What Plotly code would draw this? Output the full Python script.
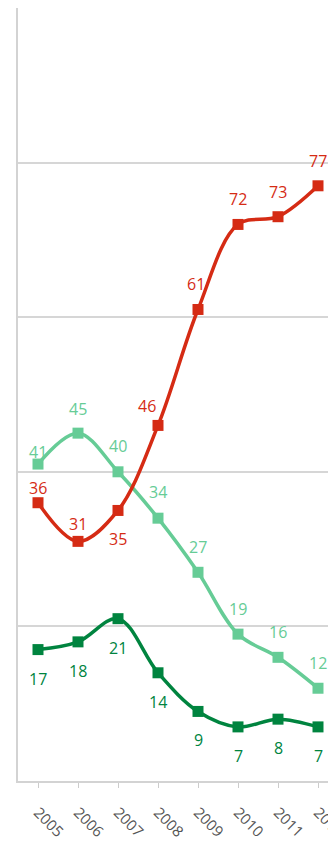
import plotly.graph_objects as go

# data
years = ["2005", "2006", "2007", "2008", "2009", "2010", "2011", "2012"]
red_vals = [36, 31, 35, 46, 61, 72, 73, 77]
light_vals = [41, 45, 40, 34, 27, 19, 16, 12]
dark_vals = [17, 18, 21, 14, 9, 7, 8, 7]

# label offsets in px (layout only)
red_shift = [15, 17, -29, 19, 25, 25, 25, 25]
red_xshift = [0, 0, 0, -11, -2, 0, 0, 0]
light_shift = [12, 24, 26, 26, 25, 25, 25, 25]
dark_shift = [-29] * 8

RED = "#d52b14"
LIGHT = "#66cc96"
DARK = "#00843f"

xs = list(range(len(years)))

fig = go.Figure()
series = [
    (dark_vals, DARK, dark_shift, [0] * 8),
    (light_vals, LIGHT, light_shift, [0] * 8),
    (red_vals, RED, red_shift, red_xshift),
]
annots = []
for vals, col, shifts, xsh in series:
    fig.add_trace(go.Scatter(
        x=xs, y=vals, mode="lines+markers",
        line=dict(color=col, width=3.5, shape="spline", smoothing=1),
        marker=dict(symbol="square", size=11, color=col),
        showlegend=False, hoverinfo="skip",
    ))
    for i, v in enumerate(vals):
        annots.append(dict(
            x=xs[i], y=v, text=str(v), showarrow=False,
            yshift=shifts[i], xshift=xsh[i],
            font=dict(family="Open Sans", size=16, color=col),
        ))

# page body has an 8px margin, so the figure is sized to fit inside the window
fig.update_layout(
    width=328, height=830,
    margin=dict(l=10, r=0, t=0, b=57),
    plot_bgcolor="white", paper_bgcolor="white",
    annotations=annots,
    font=dict(family="Open Sans"),
)
fig.update_xaxes(
    range=[-0.5, 7.45], tickmode="array", tickvals=xs, ticktext=years,
    tickangle=45, ticks="outside", ticklen=5, tickwidth=1, tickcolor="#cccccc",
    showline=True, linecolor="#d3d3d3", linewidth=2, showgrid=False, zeroline=False,
    tickfont=dict(family="Open Sans", size=15, color="#555555"),
    ticklabelstandoff=10, ticklabeloverflow="allow", automargin=False,
)
fig.update_yaxes(
    range=[0, 100], tickvals=[20, 40, 60, 80, 100], showticklabels=False,
    showgrid=True, gridcolor="#d6d6d6", gridwidth=2,
    showline=True, linecolor="#d3d3d3", linewidth=2, zeroline=False,
    automargin=False,
)

fig.write_html("out.html")
